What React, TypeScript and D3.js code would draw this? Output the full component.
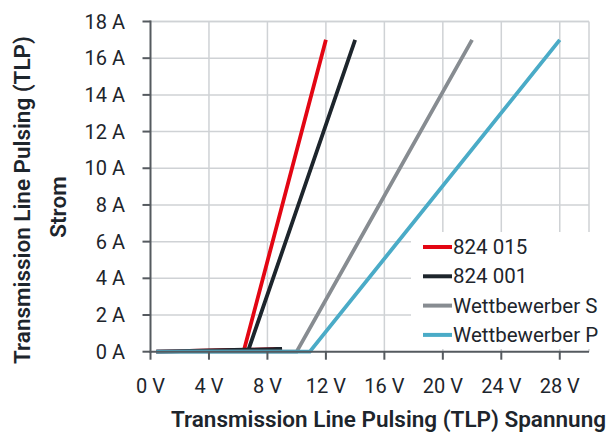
import React from "react";
import * as d3 from "d3";

const xTicks = [0, 4, 8, 12, 16, 20, 24, 28];
const yTicks = [0, 2, 4, 6, 8, 10, 12, 14, 16, 18];

const seriesNames = ["824 015", "824 001", "Wettbewerber S", "Wettbewerber P"];
const seriesColors = ["#e30613", "#1d252c", "#878c91", "#4aabc7"];

const v824015 = [0.4, 9.0, 6.4, 12.0];
const a824015 = [0.0, 0.15, 0.1, 17.0];
const v824001 = [0.4, 9.0, 6.7, 14.0];
const a824001 = [0.0, 0.15, 0.1, 17.0];
const vWettS = [0.4, 10.0, 22.0];
const aWettS = [0.0, 0.0, 17.0];
const vWettP = [0.4, 10.9, 28.0];
const aWettP = [0.0, 0.0, 17.0];

const seriesV = [v824015, v824001, vWettS, vWettP];
const seriesA = [a824015, a824001, aWettS, aWettP];

const W = 611;
const H = 436;
const left = 150.5;
const right = 589;
const top = 21.5;
const bottom = 351.7;
const FONT = "Roboto, 'Open Sans', sans-serif";
const TEXT = "#1d252c";

export default function App() {
  const x = d3.scaleLinear().domain([0, 30]).range([left, right]);
  const y = d3.scaleLinear().domain([0, 18]).range([bottom, top]);
  const line = d3
    .line<[number, number]>()
    .x((d) => x(d[0]))
    .y((d) => y(d[1]));

  const legX = 423;
  const legY0 = 247;
  const legStep = 29.3;

  return (
    <svg
      width={W}
      height={H}
      style={{ position: "absolute", left: 0, top: 0, background: "#fff" }}
      fontFamily={FONT}
    >
      {/* grid */}
      {xTicks.slice(1).map((t) => (
        <line key={"gx" + t} x1={x(t)} x2={x(t)} y1={top} y2={bottom} stroke="#cfd2d5" strokeWidth={1.5} />
      ))}
      {yTicks.slice(1).map((t) => (
        <line key={"gy" + t} x1={left} x2={right} y1={y(t)} y2={y(t)} stroke="#cfd2d5" strokeWidth={1.5} />
      ))}
      <line x1={right} x2={right} y1={top} y2={bottom} stroke="#cfd2d5" strokeWidth={1.5} />
      <line x1={left} x2={right} y1={top} y2={top} stroke="#cfd2d5" strokeWidth={1.5} />

      {/* series */}
      {seriesNames.map((n, i) => {
        const pts: [number, number][] = seriesV[i].map((v, j) => [v, seriesA[i][j]]);
        return (
          <path
            key={n}
            d={line(pts) || ""}
            fill="none"
            stroke={seriesColors[i]}
            strokeWidth={3.8}
            strokeLinejoin="miter"
          />
        );
      })}

      {/* legend background */}
      <rect x={411} y={232} width={200} height={117} fill="#fff" />
      {seriesNames.map((n, i) => (
        <g key={"lg" + n}>
          <line
            x1={legX}
            x2={legX + 29}
            y1={legY0 + i * legStep}
            y2={legY0 + i * legStep}
            stroke={seriesColors[i]}
            strokeWidth={4}
          />
          <text x={legX + 30} y={legY0 + i * legStep + 7} fontSize={20.5} fill={TEXT}>
            {n}
          </text>
        </g>
      ))}

      {/* axes */}
      <line x1={left} x2={left} y1={top - 1} y2={bottom + 1} stroke="#555a5f" strokeWidth={2} />
      <line x1={left - 1} x2={right} y1={bottom} y2={bottom} stroke="#555a5f" strokeWidth={2} />
      {yTicks.map((t) => (
        <g key={"yt" + t}>
          <line x1={left - 8} x2={left} y1={y(t)} y2={y(t)} stroke="#555a5f" strokeWidth={2} />
          <text x={125} y={y(t) + 7} textAnchor="end" fontSize={20} fill={TEXT}>
            {t} A
          </text>
        </g>
      ))}
      {xTicks.map((t) => (
        <g key={"xt" + t}>
          <line x1={x(t)} x2={x(t)} y1={bottom} y2={bottom + 8} stroke="#555a5f" strokeWidth={2} />
          <text x={x(t)} y={393} textAnchor="middle" fontSize={20} fill={TEXT}>
            {t} V
          </text>
        </g>
      ))}

      {/* axis titles */}
      <text x={388.5} y={427} textAnchor="middle" fontSize={22.5} fontWeight={600} fill={TEXT}>
        Transmission Line Pulsing (TLP) Spannung
      </text>
      <text
        transform="translate(30,200) rotate(-90)"
        textAnchor="middle"
        fontSize={22.5}
        fontWeight={600}
        fill={TEXT}
      >
        Transmission Line Pulsing (TLP)
      </text>
      <text
        transform="translate(66,207) rotate(-90)"
        textAnchor="middle"
        fontSize={22.5}
        fontWeight={600}
        fill={TEXT}
      >
        Strom
      </text>
    </svg>
  );
}
